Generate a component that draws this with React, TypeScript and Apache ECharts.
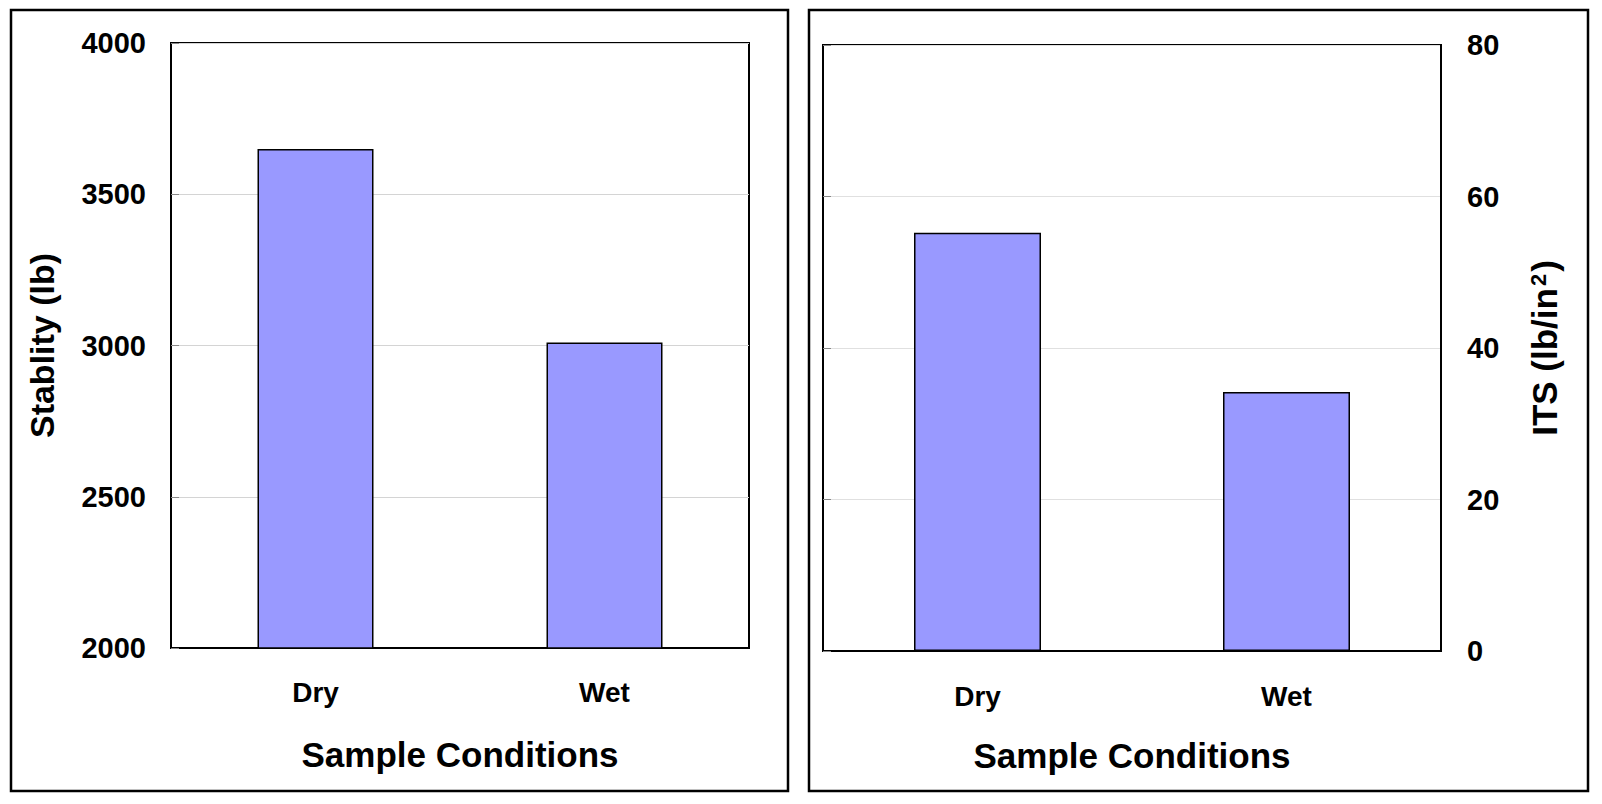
import React, { useEffect, useRef } from "react";
import * as echarts from "echarts";

const categories = ["Dry", "Wet"];
const stabilityValues = [3650, 3010];
const itsValues = [55.2, 34.2];
const stabilityMin = 2000;
const stabilityMax = 4000;
const stabilityStep = 500;
const itsMin = 0;
const itsMax = 80;
const itsStep = 20;
const xTitle = "Sample Conditions";
const leftYTitle = "Stablity (lb)";
const rightYTitle = "ITS (lb/in{sup|2})";

export default function App() {
  const ref = useRef<HTMLDivElement>(null);
  useEffect(() => {
    document.body.style.margin = "0";
    const chart = echarts.init(ref.current!, null, { renderer: "svg" });
    const font = "'Liberation Sans', Arial, sans-serif";
    const tickLabel = (margin: number) => ({
      color: "#000",
      fontSize: 29,
      fontWeight: "bold",
      fontFamily: font,
      margin,
      formatter: (v: number) => String(v),
    });
    const catLabel = (margin: number) => ({
      color: "#000",
      fontSize: 28,
      fontWeight: "bold",
      fontFamily: font,
      margin,
    });
    const titleStyle = {
      color: "#000",
      fontSize: 35,
      fontWeight: "bold",
      fontFamily: font,
    };
    const blackLine = { show: true, lineStyle: { color: "#000", width: 2 } };
    const innerTick = { show: true, inside: true, length: 8, lineStyle: { color: "#888", width: 1 } };
    const grid = { show: true, borderColor: "#000", borderWidth: 2, backgroundColor: "#fff" };
    const barStyle = { color: "#9999FF", borderColor: "#000", borderWidth: 1.5 };

    chart.setOption({
      animation: false,
      backgroundColor: "#fff",
      graphic: [
        {
          type: "rect",
          shape: { x: 11, y: 10, width: 777, height: 781 },
          style: { fill: "none", stroke: "#000", lineWidth: 2.5 },
          silent: true,
        },
        {
          type: "rect",
          shape: { x: 809, y: 10, width: 779, height: 781 },
          style: { fill: "none", stroke: "#000", lineWidth: 2.5 },
          silent: true,
        },
      ],
      grid: [
        { ...grid, left: 171, top: 43, width: 578, height: 605 },
        { ...grid, left: 823, top: 45, width: 618, height: 606 },
      ],
      xAxis: [
        {
          type: "category",
          gridIndex: 0,
          data: categories,
          axisLine: blackLine,
          axisTick: { show: false },
          axisLabel: catLabel(30),
          name: xTitle,
          nameLocation: "middle",
          nameGap: 89,
          nameTextStyle: titleStyle,
        },
        {
          type: "category",
          gridIndex: 1,
          data: categories,
          axisLine: blackLine,
          axisTick: { show: false },
          axisLabel: catLabel(31),
          name: xTitle,
          nameLocation: "middle",
          nameGap: 87,
          nameTextStyle: titleStyle,
        },
      ],
      yAxis: [
        {
          type: "value",
          gridIndex: 0,
          position: "left",
          min: stabilityMin,
          max: stabilityMax,
          interval: stabilityStep,
          axisLine: blackLine,
          axisTick: innerTick,
          splitLine: { show: true, lineStyle: { color: "#d4d4d4", width: 1 } },
          axisLabel: tickLabel(25),
          name: leftYTitle,
          nameLocation: "middle",
          nameGap: 112,
          nameTextStyle: { ...titleStyle, fontSize: 34 },
        },
        {
          type: "value",
          gridIndex: 1,
          position: "left",
          min: itsMin,
          max: itsMax,
          interval: itsStep,
          axisLine: blackLine,
          axisTick: innerTick,
          splitLine: { show: true, lineStyle: { color: "#e0e0e0", width: 1 } },
          axisLabel: { show: false },
        },
        {
          type: "value",
          gridIndex: 1,
          position: "right",
          min: itsMin,
          max: itsMax,
          interval: itsStep,
          axisLine: blackLine,
          axisTick: { show: false },
          splitLine: { show: false },
          axisLabel: tickLabel(26),
          name: rightYTitle,
          nameLocation: "middle",
          nameGap: 86,
          nameTextStyle: {
            ...titleStyle,
            fontSize: 35,
            rich: {
              sup: {
                color: "#000",
                fontSize: 22,
                fontWeight: "bold",
                fontFamily: font,
                verticalAlign: "top",
                padding: [0, 2, 0, 2],
              },
            },
          },
        },
      ],
      series: [
        {
          type: "bar",
          xAxisIndex: 0,
          yAxisIndex: 0,
          data: stabilityValues,
          barWidth: 116,
          itemStyle: barStyle,
        },
        {
          type: "bar",
          xAxisIndex: 1,
          yAxisIndex: 2,
          data: itsValues,
          barWidth: 127,
          itemStyle: barStyle,
        },
      ],
    });
    return () => chart.dispose();
  }, []);
  return <div ref={ref} style={{ width: 1602, height: 804 }} />;
}
